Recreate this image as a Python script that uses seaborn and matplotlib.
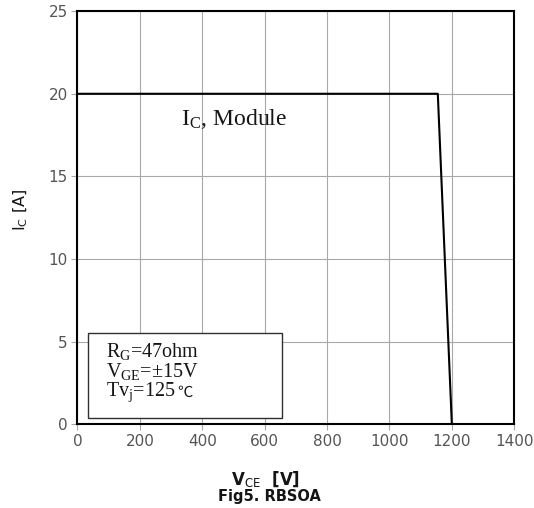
import matplotlib
matplotlib.use("Agg")
import matplotlib.pyplot as plt
from matplotlib.patches import Rectangle
import seaborn as sns
import pandas as pd

# RBSOA boundary of the module
vce = [0, 1155, 1200]
ic = [20, 20, 0]
x_ticks = [0, 200, 400, 600, 800, 1000, 1200, 1400]
y_ticks = [0, 5, 10, 15, 20, 25]

# test conditions
cond_lines = [r"R$_\mathrm{G}$=47ohm", r"V$_\mathrm{GE}$=±15V", r"Tv$_\mathrm{j}$=125"]

sns.set_theme(style="white")
plt.rcParams["font.family"] = ["DejaVu Sans"]
plt.rcParams["mathtext.fontset"] = "custom"
plt.rcParams["mathtext.rm"] = "Liberation Serif"
plt.rcParams["mathtext.it"] = "Liberation Serif:italic"
plt.rcParams["mathtext.sf"] = "DejaVu Sans"

df = pd.DataFrame({"VCE": vce, "IC": ic})

fig = plt.figure(figsize=(5.34, 5.08), dpi=100)
ax = fig.add_axes([0.145, 0.165, 0.818, 0.813])

sns.lineplot(data=df, x="VCE", y="IC", ax=ax, color="black", linewidth=1.5,
             sort=False, estimator=None)

ax.set_xlim(0, 1400)
ax.set_ylim(0, 25)
ax.set_xticks(x_ticks)
ax.set_yticks(y_ticks)
ax.grid(True, color="#a8a8a8", linewidth=0.8)
for s in ax.spines.values():
    s.set_color("black")
    s.set_linewidth(1.5)
ax.tick_params(axis="both", which="both", direction="out", length=4, width=0.8,
               color="#a8a8a8", labelcolor="#555555", labelsize=11, pad=3,
               bottom=True, left=True)
for lab in ax.get_xticklabels() + ax.get_yticklabels():
    lab.set_family("DejaVu Sans")

ax.set_xlabel("")
ax.set_ylabel("")

# axis titles
fig.text(0.038, 0.587, r"I$_\mathsf{C}$ [A]", rotation=90, ha="center", va="center",
         fontsize=11.5, color="#151515")
fig.text(0.497, 0.057, r"V$_\mathsf{CE}$  [V]", ha="center", va="center",
         fontsize=12, color="#151515", fontweight="bold")
fig.text(0.505, 0.022, "Fig5. RBSOA", ha="center", va="center",
         fontsize=10.5, color="#151515", fontweight="bold")

# curve label
ax.text(333, 18.5, r"$\mathrm{I}_{\mathrm{C}}$, Module", ha="left", va="center",
        fontsize=17, family="Liberation Serif", color="#151515")

# operating conditions box
ax.add_patch(Rectangle((34, 0.36), 622, 5.14, facecolor="white", edgecolor="#303030",
                       linewidth=1.0, zorder=3))
line_y = [4.42, 3.2, 1.95]
last = None
for txt, yy in zip(cond_lines, line_y):
    last = ax.text(91, yy, txt, ha="left", va="center", fontsize=14.5,
                   family="Liberation Serif", color="#151515", zorder=4)
ax.annotate("℃", xy=(1, 0.5), xycoords=last, xytext=(1, 0), textcoords="offset points",
            ha="left", va="center", fontsize=11, family=["Noto Sans CJK SC", "DejaVu Sans"],
            color="#151515", zorder=4)

fig.savefig("out.png", dpi=100)
